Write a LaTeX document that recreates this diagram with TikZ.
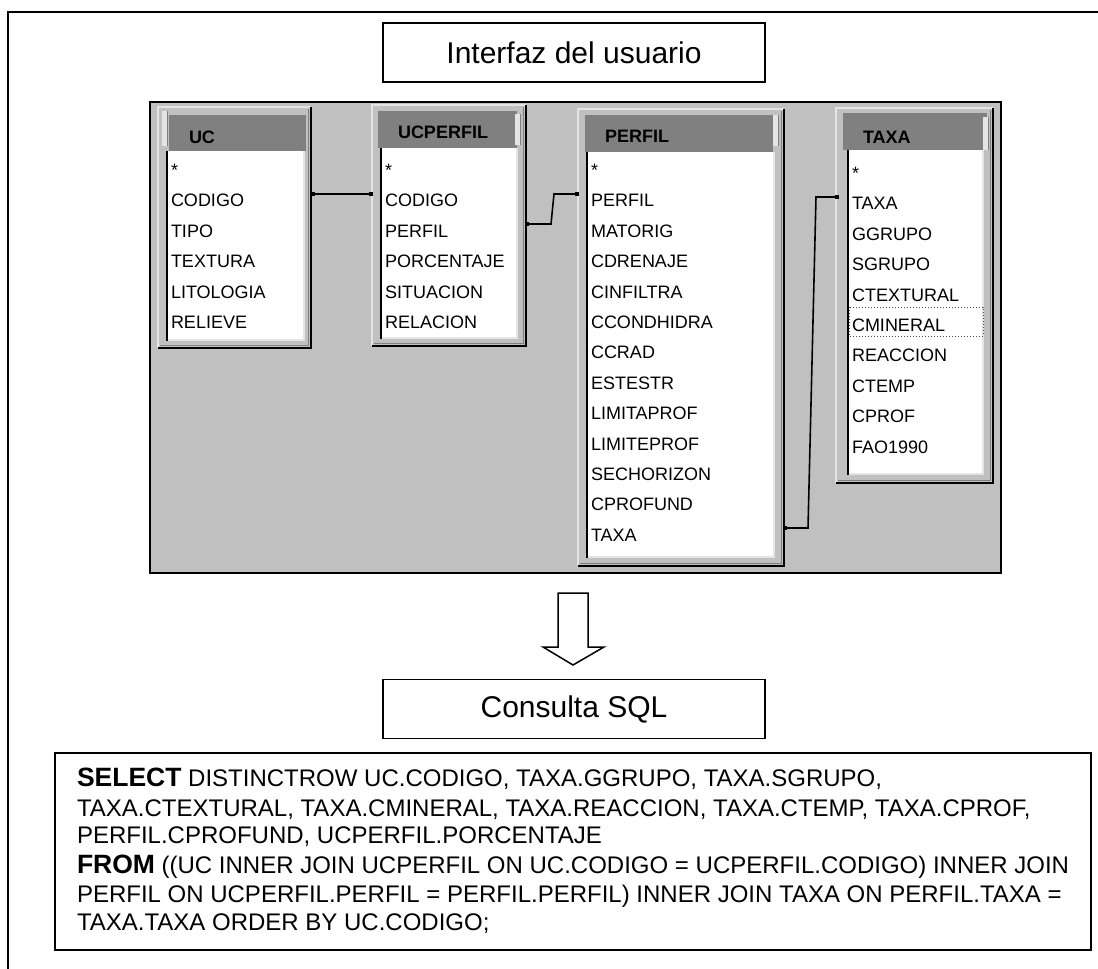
\documentclass[tikz,border=0pt]{standalone}
\usepackage{fontspec}
\setmainfont{Liberation Sans}
\usetikzlibrary{calc}
\definecolor{panelgray}{HTML}{C0C0C0}
\definecolor{hdrgray}{HTML}{808080}
\definecolor{bevel}{HTML}{E4E4E4}
% outer window of a table: light top/left edge, dark bottom/right edge
\newcommand\dbframe[4]{%
  \fill[panelgray] (#1,#2) rectangle (#3,#4);
  \draw[bevel, line width=1.5pt] (#1,#4) -- (#1,#2) -- (#3,#2);
  \draw[hdrgray, line width=1pt] ({#1+2},{#4-2.5}) -- ({#3-2.5},{#4-2.5}) -- ({#3-2.5},{#2+2});
  \draw[black, line width=1.6pt] (#1,#4) -- (#3,#4) -- (#3,#2);}
% title strip of a table
\newcommand\dbheader[4]{%
  \fill[hdrgray] (#1,#2) rectangle (#3,#4);}
% small grip bar beside a title strip
\newcommand\dbgrip[4]{%
  \fill[bevel] (#1,#2) rectangle (#3,#4);
  \draw[hdrgray, line width=1pt] (#3,#2) -- (#3,#4);}
% field list: white, sunken on the left
\newcommand\dblist[4]{%
  \fill[white] (#1,#2) rectangle (#3,#4);
  \draw[bevel, line width=2pt] ({#1},{#4-1}) -- ({#3-1},{#4-1}) -- ({#3-1},{#2});
  \draw[black, line width=2pt] (#1,#2) -- (#1,#4);}
\newcommand\sqlkw[1]{{\fontsize{26.5}{30}\selectfont\bfseries #1}}
\begin{document}
\begin{tikzpicture}[x=1pt,y=-1pt,
  every node/.style={inner sep=0pt, outer sep=0pt},
  labelbox/.style={draw=black, line width=1.5pt, fill=white,
    minimum width=382pt, minimum height=59pt,
    font=\fontsize{30}{36}\selectfont},
  field/.style={anchor=base west, font=\fontsize{18}{20}\selectfont},
  hdrtext/.style={anchor=base west, font=\fontsize{18}{20}\selectfont\bfseries},
  sqlline/.style={anchor=base west, font=\fontsize{24}{28}\selectfont},
  joint/.style={fill=black, minimum size=4pt},
  link/.style={line width=1.6pt, black}]
\useasboundingbox (0,0) rectangle (1098,969);
\fill[white] (0,0) rectangle (1098,969);

% page frame
\draw[line width=1.5pt] (8,969) -- (8,12) -- (1098,12);

% headings
\node[labelbox] (iface) at (574,52.5) {Interfaz del usuario};
\node[labelbox] (query) at (574,709) {Consulta SQL};

% query designer panel
\draw[black, line width=2pt, fill=panelgray] (150,102) rectangle (1001,573);

% table UC
\dbframe{158}{107}{311}{348}
\dbgrip{162}{111}{167}{146}
\dbheader{169}{115}{306}{151}
\dblist{167}{151}{305}{341}
\node[hdrtext] (uc-h) at (189,143.5) {UC};
\foreach \t [count=\i from 0] in {*,CODIGO,TIPO,TEXTURA,LITOLOGIA,RELIEVE}
  \node[field] (uc-\i) at (171,{176.5+30.4*\i}) {\t};

% table UCPERFIL
\dbframe{372}{105}{526}{346}
\dbheader{378}{111}{517}{148}
\dbgrip{515}{114}{520}{145}
\dblist{381}{148}{518}{339}
\node[hdrtext] (ucp-h) at (398,138.5) {UCPERFIL};
\foreach \t [count=\i from 0] in {*,CODIGO,PERFIL,PORCENTAJE,SITUACION,RELACION}
  \node[field] (ucp-\i) at (385,{176.5+30.4*\i}) {\t};

% table PERFIL
\dbframe{578}{109}{784}{566}
\dbheader{585}{115}{773}{152}
\dbgrip{773}{115}{778}{146}
\dblist{587}{152}{775}{558}
\node[hdrtext] (per-h) at (605,142.5) {PERFIL};
\foreach \t [count=\i from 0] in {*,PERFIL,MATORIG,CDRENAJE,CINFILTRA,CCONDHIDRA,CCRAD,ESTESTR,LIMITAPROF,LIMITEPROF,SECHORIZON,CPROFUND,TAXA}
  \node[field] (per-\i) at (591,{176.5+30.4*\i}) {\t};

% table TAXA
\dbframe{836}{108}{993}{483}
\dbheader{843}{113}{987}{150}
\dbgrip{983}{117}{988}{150}
\dblist{848}{150}{984}{475}
\node[hdrtext] (tax-h) at (863,143.5) {TAXA};
\foreach \t [count=\i from 0] in {*,TAXA,GGRUPO,SGRUPO,CTEXTURAL,CMINERAL,REACCION,CTEMP,CPROF,FAO1990}
  \node[field] (tax-\i) at (852,{179.5+30.4*\i}) {\t};
\draw[black!70, line width=1pt, dotted] (849,307) rectangle (983,336);

% relationships
\node[joint] (j1a) at (313,194) {};
\node[joint] (j1b) at (371,194) {};
\draw[link] (j1a) -- (j1b);

\node[joint] (j2a) at (527,224) {};
\node[joint] (j2b) at (577,194) {};
\draw[link] (j2a.center) -- ++(24,0) -- ($(j2b.center)+(-23,0)$) -- (j2b.center);

\node[joint] (j3a) at (785,528) {};
\node[joint] (j3b) at (837,197) {};
\draw[link] (j3a.center) -- ++(23,0) -- ($(j3b.center)+(-21,0)$) -- (j3b.center);

% block arrow from the panel to the query heading
\draw[line width=1.5pt, fill=white, line join=miter]
  (558,593) -- (588,593) -- (588,647) -- (604,647) -- (573,665)
  -- (543,647) -- (558,647) -- cycle;

% generated SQL
\draw[line width=1.5pt] (55,753) rectangle (1091,950);
\node[sqlline] (sql1) at (77,786) {\sqlkw{SELECT} DISTINCTROW UC.CODIGO, TAXA.GGRUPO, TAXA.SGRUPO,};
\node[sqlline] (sql2) at (77,816) {TAXA.CTEXTURAL, TAXA.CMINERAL, TAXA.REACCION, TAXA.CTEMP, TAXA.CPROF,};
\node[sqlline] (sql3) at (77,843) {PERFIL.CPROFUND, UCPERFIL.PORCENTAJE};
\node[sqlline] (sql4) at (77,873) {\sqlkw{FROM} ((UC INNER JOIN UCPERFIL ON UC.CODIGO = UCPERFIL.CODIGO) INNER JOIN};
\node[sqlline] (sql5) at (77,902) {PERFIL ON UCPERFIL.PERFIL = PERFIL.PERFIL) INNER JOIN TAXA ON PERFIL.TAXA =};
\node[sqlline] (sql6) at (77,930) {TAXA.TAXA ORDER BY UC.CODIGO;};
\end{tikzpicture}
\end{document}
